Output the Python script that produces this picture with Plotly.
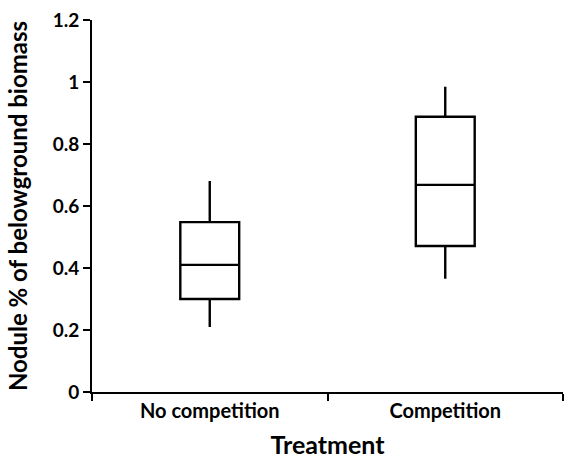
import plotly.graph_objects as go

categories = ["No competition", "Competition"]
lower = [0.21, 0.365]
q1 = [0.30, 0.471]
median = [0.41, 0.668]
q3 = [0.548, 0.888]
upper = [0.681, 0.985]

fig = go.Figure()
fig.add_trace(go.Box(
    x=categories, q1=q1, median=median, q3=q3,
    lowerfence=lower, upperfence=upper,
    width=0.25, whiskerwidth=0,
    line=dict(color="black", width=2.4),
    fillcolor="white", boxpoints=False, showlegend=False,
    hoverinfo="skip",
))

font_family = "Lato, Open Sans, sans-serif"
fig.update_layout(
    width=564, height=459,
    margin=dict(l=92, r=1, t=20, b=67),
    plot_bgcolor="white", paper_bgcolor="white",
    font=dict(family=font_family, color="black"),
    xaxis=dict(
        type="category", range=[-0.5, 1.5], tickson="boundaries",
        automargin=False,
        showline=True, linecolor="black", linewidth=1.6,
        ticks="outside", ticklen=7, tickwidth=1.5, tickcolor="black",
        showgrid=False, zeroline=False,
        tickfont=dict(size=20, family=font_family, weight="bold"),
        title=dict(text="<b>Treatment</b>", font=dict(size=25), standoff=18),
    ),
    yaxis=dict(
        range=[0, 1.2], tickvals=[0, 0.2, 0.4, 0.6, 0.8, 1, 1.2],
        ticktext=["0", "0.2", "0.4", "0.6", "0.8", "1", "1.2"],
        automargin=False,
        showline=True, linecolor="black", linewidth=1.6,
        ticks="outside", ticklen=7, tickwidth=1.5, tickcolor="black",
        showgrid=False, zeroline=False,
        tickfont=dict(size=19, family=font_family, weight="bold"),
        title=dict(text="<b>Nodule % of belowground biomass</b>", font=dict(size=24), standoff=18),
    ),
)

fig.write_html("out.html", config={"displayModeBar": False},
               post_script="document.body.style.margin='0px';")
